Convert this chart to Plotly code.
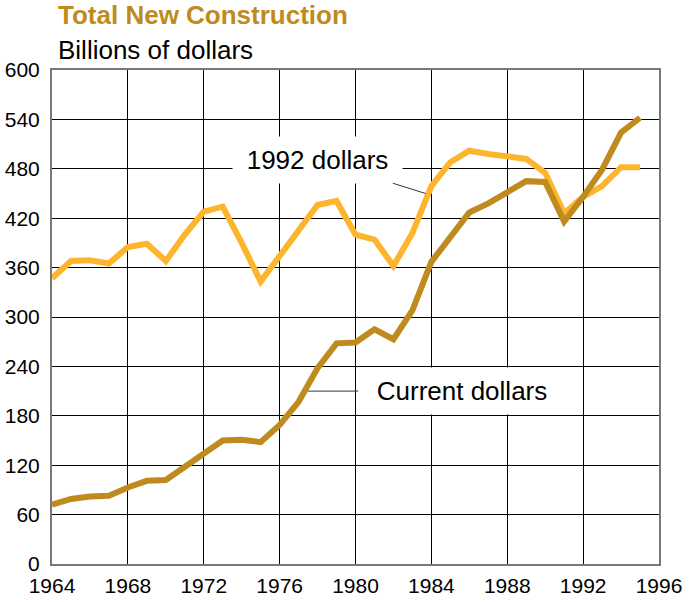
import plotly.graph_objects as go

years = list(range(1964, 1996))
current_dollars = [
    72, 79, 82, 83, 93, 101, 102, 118, 134, 150,
    151, 148, 169, 197, 238, 268, 269, 285, 273, 308,
    367, 398, 427, 438, 451, 465, 464, 416, 446, 479,
    524, 542,
]
constant_1992 = [
    347, 368, 369, 365, 385, 389, 368, 400, 428, 434,
    390, 343, 374, 404, 436, 441, 400, 394, 362, 402,
    459, 488, 502, 498, 495, 492, 475, 426, 446, 459,
    482, 482,
]

LIGHT = "#FDB52E"
DARK = "#BF8B1E"
FONT = "Liberation Sans, Arial, sans-serif"

fig = go.Figure()
fig.add_trace(go.Scatter(
    x=years, y=constant_1992, mode="lines", name="1992 dollars",
    line={"color": LIGHT, "width": 6},
))
fig.add_trace(go.Scatter(
    x=years, y=current_dollars, mode="lines", name="Current dollars",
    line={"color": DARK, "width": 6},
))

# line labels with white boxes and leader lines
fig.add_annotation(
    x=1983.7, y=450, xref="x", yref="y",
    ax=1978.0, ay=491, axref="x", ayref="y",
    text="1992 dollars", showarrow=True, arrowhead=0, arrowwidth=1,
    arrowcolor="#333333", bgcolor="white", borderpad=8, width=153,
    font={"size": 26, "color": "black", "family": FONT},
)
fig.add_annotation(
    x=1977.5, y=210, xref="x", yref="y",
    ax=1985.6, ay=210, axref="x", ayref="y",
    text="Current dollars", showarrow=True, arrowhead=0, arrowwidth=1,
    arrowcolor="#333333", bgcolor="white", borderpad=8, width=190,
    font={"size": 26, "color": "black", "family": FONT},
)

fig.add_annotation(
    x=0.007, y=1.112, xref="paper", yref="paper", xanchor="left", yanchor="middle",
    text="<b>Total New Construction</b>", showarrow=False,
    font={"size": 26, "color": DARK, "family": FONT},
)
fig.add_annotation(
    x=0.007, y=1.041, xref="paper", yref="paper", xanchor="left", yanchor="middle",
    text="Billions of dollars", showarrow=False,
    font={"size": 26, "color": "black", "family": FONT},
)

fig.update_xaxes(
    range=[1964, 1996], dtick=4, tick0=1964, showgrid=True, gridcolor="black",
    gridwidth=1, showline=True, linecolor="#777777", linewidth=2, mirror=True,
    ticks="", zeroline=False, automargin=False, ticklabelstandoff=2,
    tickfont={"size": 21, "color": "black", "family": FONT},
)
fig.update_yaxes(
    range=[0, 600], dtick=60, showgrid=True, gridcolor="black", gridwidth=1,
    showline=True, linecolor="#777777", linewidth=2, mirror=True,
    ticks="", zeroline=False, automargin=False, ticklabelstandoff=6,
    tickfont={"size": 21, "color": "black", "family": FONT},
)
fig.update_layout(
    width=691, height=602, paper_bgcolor="white", plot_bgcolor="white",
    showlegend=False, margin={"l": 52, "r": 32, "t": 70, "b": 38},
    font={"family": FONT},
)

# drop the default 8px body margin so the figure fills the window exactly
fig.write_html(
    "out.html",
    config={"displayModeBar": False},
    post_script="document.body.style.margin = '0';",
)
